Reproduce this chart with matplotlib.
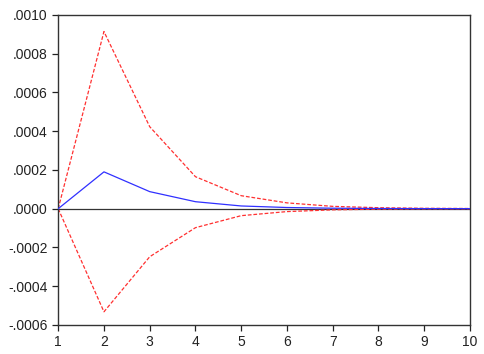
import matplotlib
matplotlib.use("Agg")
import matplotlib.pyplot as plt
from matplotlib.ticker import FuncFormatter

# periods and responses
periods = [1, 2, 3, 4, 5, 6, 7, 8, 9, 10]
response = [0.0, 0.000190, 0.000088, 0.000036, 0.000014, 0.000006, 0.0000025, 0.000001, 0.0000004, 0.0000002]
upper_band = [0.0, 0.000914, 0.000423, 0.000165, 0.000067, 0.000030, 0.000012, 0.000005, 0.000002, 0.000001]
lower_band = [0.0, -0.000532, -0.000248, -0.000098, -0.000036, -0.000015, -0.000006, -0.0000025, -0.000001, -0.0000005]

plt.rcParams['font.family'] = ['Liberation Sans', 'DejaVu Sans']

fig, ax = plt.subplots(figsize=(4.85, 3.54), dpi=100)
fig.subplots_adjust(left=0.12, right=0.969, top=0.958, bottom=0.082)

ax.axhline(0, color='#333333', linewidth=0.9, zorder=1)
ax.plot(periods, response, color='#3030ff', linewidth=0.9, zorder=3)
ax.plot(periods, upper_band, color='#ff3030', linewidth=0.9, linestyle=(0, (3, 1.5)), zorder=2)
ax.plot(periods, lower_band, color='#ff3030', linewidth=0.9, linestyle=(0, (3, 1.5)), zorder=2)

ax.set_xlim(1, 10)
ax.set_ylim(-0.0006, 0.0010)
ax.set_xticks(periods)
ax.set_yticks([-0.0006, -0.0004, -0.0002, 0.0, 0.0002, 0.0004, 0.0006, 0.0008, 0.0010])


def fmt(v, pos):
    s = f"{v:.4f}"
    if s.startswith("-0"):
        s = "-" + s[2:]
    elif s.startswith("0"):
        s = s[1:]
    if s == "-.0000":
        s = ".0000"
    return s


ax.yaxis.set_major_formatter(FuncFormatter(fmt))
ax.tick_params(direction='out', length=4, width=0.9, labelsize=10, colors='#222222')
for sp in ax.spines.values():
    sp.set_linewidth(1.0)
    sp.set_color('#333333')

fig.savefig("out.png", dpi=100)
